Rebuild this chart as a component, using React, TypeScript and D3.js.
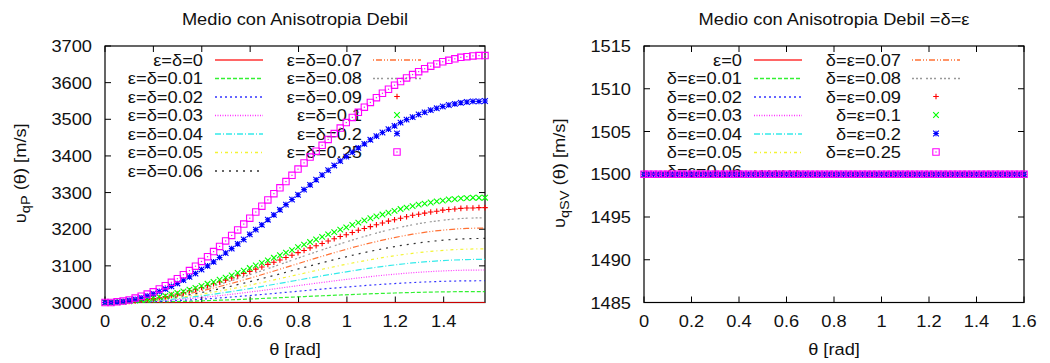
import React from "react";
import * as d3 from "d3";

const FONT = '"Liberation Sans", Arial, Helvetica, sans-serif';
const FONT_SIZE = 16.3;
const WIDEN = 1.12; // glyphs are set a little wider than the stock face

// ---- sample angles (rad) ----
const thetaFine = [
  0, 0.0249, 0.0499, 0.0748, 0.0997, 0.1247, 0.1496, 0.1745, 0.1995, 0.2244,
  0.2493, 0.2743, 0.2992, 0.3241, 0.3491, 0.374, 0.3989, 0.4239, 0.4488, 0.4737,
  0.4987, 0.5236, 0.5485, 0.5735, 0.5984, 0.6233, 0.6483, 0.6732, 0.6981, 0.7231,
  0.748, 0.7729, 0.7979, 0.8228, 0.8477, 0.8727, 0.8976, 0.9225, 0.9475, 0.9724,
  0.9973, 1.0223, 1.0472, 1.0721, 1.097, 1.122, 1.1469, 1.1718, 1.1968, 1.2217,
  1.2466, 1.2716, 1.2965, 1.3214, 1.3464, 1.3713, 1.3962, 1.4212, 1.4461, 1.471,
  1.496, 1.5209, 1.5458, 1.5708,
];
const thetaCoarse = [
  0, 0.0748, 0.1496, 0.2244, 0.2992, 0.374, 0.4488, 0.5236, 0.5984, 0.6732, 0.748,
  0.8228, 0.8976, 0.9724, 1.0472, 1.122, 1.1968, 1.2716, 1.3464, 1.4212, 1.496, 1.5708,
];
const thetaSV = [
  0, 0.02, 0.04, 0.06, 0.08, 0.1, 0.12, 0.14, 0.16, 0.18,
  0.2, 0.22, 0.24, 0.26, 0.28, 0.3, 0.32, 0.34, 0.36, 0.38,
  0.4, 0.42, 0.44, 0.46, 0.48, 0.5, 0.52, 0.54, 0.56, 0.58,
  0.6, 0.62, 0.64, 0.66, 0.68, 0.7, 0.72, 0.74, 0.76, 0.78,
  0.8, 0.82, 0.84, 0.86, 0.88, 0.9, 0.92, 0.94, 0.96, 0.98,
  1, 1.02, 1.04, 1.06, 1.08, 1.1, 1.12, 1.14, 1.16, 1.18,
  1.2, 1.22, 1.24, 1.26, 1.28, 1.3, 1.32, 1.34, 1.36, 1.38,
  1.4, 1.42, 1.44, 1.46, 1.48, 1.5, 1.52, 1.54, 1.56, 1.58,
  1.6,
];

// ---- qP velocity (m/s), lines on thetaCoarse ----
const qp000 = [
  3000, 3000, 3000, 3000, 3000, 3000, 3000, 3000, 3000, 3000, 3000,
  3000, 3000, 3000, 3000, 3000, 3000, 3000, 3000, 3000, 3000, 3000,
];
const qp001 = [
  3000, 3000.2, 3000.7, 3001.5, 3002.6, 3004.0, 3005.7, 3007.5, 3009.5, 3011.7, 3013.9,
  3016.1, 3018.4, 3020.5, 3022.5, 3024.3, 3025.9, 3027.3, 3028.4, 3029.2, 3029.7, 3029.9,
];
const qp002 = [
  3000, 3000.3, 3001.3, 3003.0, 3005.2, 3008.0, 3011.3, 3015.0, 3019.1, 3023.3, 3027.7,
  3032.2, 3036.6, 3040.8, 3044.8, 3048.5, 3051.7, 3054.4, 3056.6, 3058.2, 3059.1, 3059.4,
];
const qp003 = [
  3000, 3000.5, 3002.0, 3004.5, 3007.9, 3012.0, 3017.0, 3022.5, 3028.6, 3034.9, 3041.5,
  3048.2, 3054.7, 3061.0, 3067.0, 3072.4, 3077.2, 3081.3, 3084.5, 3086.8, 3088.3, 3088.7,
];
const qp004 = [
  3000, 3000.7, 3002.7, 3006.0, 3010.5, 3016.1, 3022.6, 3030.0, 3038.0, 3046.5, 3055.2,
  3064.1, 3072.7, 3081.1, 3089.0, 3096.1, 3102.5, 3107.9, 3112.1, 3115.3, 3117.1, 3117.7,
];
const qp005 = [
  3000, 3000.8, 3003.3, 3007.5, 3013.1, 3020.1, 3028.2, 3037.4, 3047.4, 3058.0, 3068.9,
  3079.9, 3090.7, 3101.1, 3110.8, 3119.7, 3127.6, 3134.2, 3139.6, 3143.4, 3145.7, 3146.4,
];
const qp006 = [
  3000, 3001.0, 3004.0, 3008.9, 3015.7, 3024.1, 3033.9, 3044.9, 3056.8, 3069.5, 3082.5,
  3095.6, 3108.5, 3120.9, 3132.5, 3143.1, 3152.5, 3160.4, 3166.7, 3171.3, 3174.0, 3174.9,
];
const qp007 = [
  3000, 3001.2, 3004.7, 3010.4, 3018.3, 3028.0, 3039.5, 3052.3, 3066.2, 3080.9, 3096.0,
  3111.2, 3126.2, 3140.6, 3154.1, 3166.3, 3177.2, 3186.4, 3193.7, 3199.0, 3202.1, 3203.1,
];
const qp008 = [
  3000, 3001.3, 3005.4, 3011.9, 3020.9, 3032.0, 3045.1, 3059.7, 3075.6, 3092.3, 3109.5,
  3126.8, 3143.8, 3160.1, 3175.4, 3189.4, 3201.7, 3212.1, 3220.4, 3226.4, 3230.0, 3231.1,
];

// ---- qP velocity (m/s), point series on thetaFine ----
const qp009 = [
  3000, 3000, 3001, 3002, 3003, 3004, 3006, 3008, 3011, 3013,
  3016, 3020, 3023, 3027, 3032, 3036, 3041, 3046, 3051, 3056,
  3061, 3067, 3073, 3079, 3085, 3091, 3097, 3104, 3110, 3116,
  3123, 3129, 3136, 3142, 3149, 3155, 3161, 3168, 3174, 3180,
  3185, 3191, 3197, 3202, 3207, 3212, 3217, 3222, 3226, 3230,
  3234, 3238, 3241, 3244, 3247, 3249, 3252, 3254, 3255, 3257,
  3258, 3258, 3259, 3259,
];
const qp010 = [
  3000, 3000, 3001, 3002, 3003, 3005, 3007, 3009, 3012, 3015,
  3018, 3022, 3026, 3030, 3035, 3040, 3045, 3051, 3056, 3062,
  3068, 3074, 3081, 3087, 3094, 3101, 3108, 3115, 3122, 3129,
  3136, 3143, 3151, 3158, 3165, 3172, 3179, 3186, 3192, 3199,
  3205, 3212, 3218, 3224, 3230, 3235, 3240, 3245, 3250, 3255,
  3259, 3263, 3267, 3270, 3273, 3276, 3278, 3281, 3282, 3284,
  3285, 3286, 3286, 3286,
];
const qp020 = [
  3000, 3000, 3001, 3003, 3006, 3009, 3013, 3018, 3024, 3030,
  3037, 3044, 3052, 3061, 3070, 3079, 3090, 3100, 3111, 3123,
  3135, 3147, 3160, 3172, 3186, 3199, 3212, 3226, 3239, 3253,
  3267, 3281, 3294, 3308, 3321, 3335, 3348, 3361, 3374, 3386,
  3398, 3410, 3422, 3433, 3444, 3454, 3464, 3473, 3482, 3491,
  3499, 3506, 3513, 3519, 3525, 3530, 3535, 3539, 3542, 3545,
  3547, 3549, 3549, 3550,
];
const qp025 = [
  3000, 3000, 3002, 3004, 3007, 3012, 3017, 3023, 3029, 3037,
  3046, 3055, 3065, 3076, 3087, 3099, 3112, 3125, 3139, 3153,
  3168, 3183, 3198, 3214, 3230, 3247, 3263, 3280, 3297, 3313,
  3330, 3347, 3364, 3381, 3397, 3413, 3429, 3445, 3461, 3476,
  3491, 3505, 3519, 3533, 3546, 3559, 3571, 3582, 3593, 3603,
  3613, 3622, 3630, 3638, 3645, 3651, 3657, 3661, 3665, 3669,
  3671, 3673, 3674, 3674,
];

// ---- qSV velocity (m/s): one level per curve ----
const qsvLevels = [1500, 1500, 1500, 1500, 1500, 1500, 1500, 1500, 1500, 1500, 1500, 1500, 1500];

// ---- key labels ----
const qpLabels = [
  "ε=δ=0", "ε=δ=0.01", "ε=δ=0.02", "ε=δ=0.03", "ε=δ=0.04", "ε=δ=0.05", "ε=δ=0.06",
  "ε=δ=0.07", "ε=δ=0.08", "ε=δ=0.09", "ε=δ=0.1", "ε=δ=0.2", "ε=δ=0.25",
];
const qsvLabels = [
  "ε=0", "δ=ε=0.01", "δ=ε=0.02", "δ=ε=0.03", "δ=ε=0.04", "δ=ε=0.05", "δ=ε=0.06",
  "δ=ε=0.07", "δ=ε=0.08", "δ=ε=0.09", "δ=ε=0.1", "δ=ε=0.2", "δ=ε=0.25",
];

// ---- axis ticks ----
const qpXTicks = [0, 0.2, 0.4, 0.6, 0.8, 1, 1.2, 1.4];
const qpYTicks = [3000, 3100, 3200, 3300, 3400, 3500, 3600, 3700];
const svXTicks = [0, 0.2, 0.4, 0.6, 0.8, 1, 1.2, 1.4, 1.6];
const svYTicks = [1485, 1490, 1495, 1500, 1505, 1510, 1515];

type Marker = "plus" | "cross" | "star" | "box";
type Style = { color: string; dash?: string; marker?: Marker };

// line types in key order
const styles: Style[] = [
  { color: "#ff0000" },
  { color: "#00ee00", dash: "4,2" },
  { color: "#0000ff", dash: "2,3" },
  { color: "#ff00ff", dash: "1,1.5" },
  { color: "#00e5e5", dash: "6,2,1,2" },
  { color: "#f0f000", dash: "3,3,1,3" },
  { color: "#000000", dash: "2,5" },
  { color: "#ff4d00", dash: "1,2,6,2,1,2" },
  { color: "#808080", dash: "2,2,2,2,2,4" },
  { color: "#ff0000", marker: "plus" },
  { color: "#00ff00", marker: "cross" },
  { color: "#0000ff", marker: "star" },
  { color: "#ff00ff", marker: "box" },
];

type Series = { label: string; style: Style; pts: [number, number][] };

const zip = (xs: number[], ys: number[]): [number, number][] => xs.map((t, i) => [t, ys[i]]);

const qpSeries: Series[] = [
  qp000, qp001, qp002, qp003, qp004, qp005, qp006, qp007, qp008,
].map((v, i) => ({ label: qpLabels[i], style: styles[i], pts: zip(thetaCoarse, v) }))
  .concat(
    [qp009, qp010, qp020, qp025].map((v, j) => ({
      label: qpLabels[9 + j],
      style: styles[9 + j],
      pts: zip(thetaFine, v),
    }))
  );

const svSeries: Series[] = qsvLevels.map((lvl, i) => ({
  label: qsvLabels[i],
  style: styles[i],
  pts: thetaSV.map((t) => [t, lvl] as [number, number]),
}));

function markerPath(m: Marker, r: number): string {
  const plus = `M${-r},0H${r}M0,${-r}V${r}`;
  const cross = `M${-r},${-r}L${r},${r}M${-r},${r}L${r},${-r}`;
  if (m === "plus") return plus;
  if (m === "cross") return cross;
  if (m === "star") return plus + cross;
  return `M${-r},${-r}H${r}V${r}H${-r}Z`;
}

function Glyph({ m, x, y, color }: { m: Marker; x: number; y: number; color: string }) {
  const r = m === "box" ? 3.2 : 2.8;
  return (
    <g transform={`translate(${x},${y})`}>
      <path d={markerPath(m, r)} fill="none" stroke={color} strokeWidth={1.1} />
      {m === "box" ? <rect x={-0.6} y={-0.6} width={1.2} height={1.2} fill={color} /> : null}
    </g>
  );
}

function WideText({
  x, y, anchor = "middle", children,
}: { x: number; y: number; anchor?: string; children: React.ReactNode }) {
  return (
    <text
      transform={`translate(${x},${y}) scale(${WIDEN},1)`}
      textAnchor={anchor}
      fontFamily={FONT}
      fontSize={FONT_SIZE}
      fill="#111"
    >
      {children}
    </text>
  );
}

type PanelProps = {
  title: string;
  yMain: string;
  ySub: string;
  x0: number;
  x1: number;
  xDomain: [number, number];
  yDomain: [number, number];
  xTicks: number[];
  yTicks: number[];
  series: Series[];
  curved: boolean;
};

const TOP = 46;
const BOTTOM = 302.5;
const TICK = 6;

function Panel(p: PanelProps) {
  const x = d3.scaleLinear().domain(p.xDomain).range([p.x0, p.x1]);
  const y = d3.scaleLinear().domain(p.yDomain).range([BOTTOM, TOP]);
  const midX = (p.x0 + p.x1) / 2;
  const line = d3
    .line<[number, number]>()
    .x((d) => x(d[0]))
    .y((d) => y(d[1]))
    .curve(p.curved ? d3.curveMonotoneX : d3.curveLinear);

  const rowY = (r: number) => 59.5 + r * 18.5;
  const keyPos = (i: number) => {
    const col = i < 7 ? 0 : 1;
    const row = i < 7 ? i : i - 7;
    const textRight = p.x0 + (col === 0 ? 98 : 257);
    const s0 = p.x0 + (col === 0 ? 110 : 268);
    return { textRight, s0, s1: s0 + 48, yy: rowY(row) };
  };

  return (
    <g>
      <WideText x={midX} y={25}>{p.title}</WideText>

      {/* border */}
      <rect x={p.x0} y={TOP} width={p.x1 - p.x0} height={BOTTOM - TOP} fill="none" stroke="#000" strokeWidth={1.2} />

      {/* ticks, mirrored on the opposite side */}
      {p.xTicks.map((t) => (
        <g key={`xt${t}`}>
          <line x1={x(t)} x2={x(t)} y1={BOTTOM} y2={BOTTOM - TICK} stroke="#000" strokeWidth={1} />
          <line x1={x(t)} x2={x(t)} y1={TOP} y2={TOP + TICK} stroke="#000" strokeWidth={1} />
          <WideText x={x(t)} y={327}>{String(t)}</WideText>
        </g>
      ))}
      {p.yTicks.map((t) => (
        <g key={`yt${t}`}>
          <line x1={p.x0} x2={p.x0 + TICK} y1={y(t)} y2={y(t)} stroke="#000" strokeWidth={1} />
          <line x1={p.x1} x2={p.x1 - TICK} y1={y(t)} y2={y(t)} stroke="#000" strokeWidth={1} />
          <WideText x={p.x0 - 13} y={y(t) + 6} anchor="end">{String(t)}</WideText>
        </g>
      ))}

      {/* axis titles */}
      <WideText x={midX} y={354.5}>θ [rad]</WideText>
      <text
        transform={`translate(${p.x0 - 79},${(TOP + BOTTOM) / 2 - 1}) rotate(-90) scale(${WIDEN},1)`}
        textAnchor="middle"
        fontFamily={FONT}
        fontSize={FONT_SIZE}
        fill="#111"
      >
        {p.yMain}
        <tspan fontSize={FONT_SIZE * 0.8} dy={4}>{p.ySub}</tspan>
        <tspan dy={-4}> (θ) [m/s]</tspan>
      </text>

      {/* key labels */}
      {p.series.map((s, i) => {
        const k = keyPos(i);
        return (
          <WideText key={`kl${i}`} x={k.textRight} y={k.yy + 6} anchor="end">{s.label}</WideText>
        );
      })}

      {/* curves with their key samples */}
      {p.series.map((s, i) => {
        const k = keyPos(i);
        const st = s.style;
        if (st.marker) {
          return (
            <g key={`s${i}`}>
              <Glyph m={st.marker} x={(k.s0 + k.s1) / 2} y={k.yy} color={st.color} />
              {s.pts.map((d, j) => (
                <Glyph key={j} m={st.marker!} x={x(d[0])} y={y(d[1])} color={st.color} />
              ))}
            </g>
          );
        }
        return (
          <g key={`s${i}`} strokeOpacity={0.8}>
            <line x1={k.s0} x2={k.s1} y1={k.yy + 0.5} y2={k.yy + 0.5} stroke={st.color} strokeWidth={1.4} strokeDasharray={st.dash} />
            <path d={line(s.pts) || ""} fill="none" stroke={st.color} strokeWidth={1.2} strokeDasharray={st.dash} />
          </g>
        );
      })}
    </g>
  );
}

export default function App() {
  return (
    <svg
      width={1050}
      height={363}
      viewBox="0 0 1050 363"
      style={{ position: "absolute", left: 0, top: 0, background: "#fff", display: "block" }}
    >
      <rect x={0} y={0} width={1050} height={363} fill="#fff" />
      <Panel
        title="Medio con Anisotropia Debil"
        yMain="υ"
        ySub="qP"
        x0={105}
        x1={485}
        xDomain={[0, 1.5708]}
        yDomain={[3000, 3700]}
        xTicks={qpXTicks}
        yTicks={qpYTicks}
        series={qpSeries}
        curved={true}
      />
      <Panel
        title="Medio con Anisotropia Debil =δ=ε"
        yMain="υ"
        ySub="qSV"
        x0={644}
        x1={1024}
        xDomain={[0, 1.6]}
        yDomain={[1485, 1515]}
        xTicks={svXTicks}
        yTicks={svYTicks}
        series={svSeries}
        curved={false}
      />
    </svg>
  );
}
